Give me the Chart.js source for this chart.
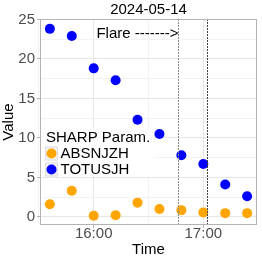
<!DOCTYPE html>
<html>
<head>
<meta charset="utf-8">
<script src="https://cdn.jsdelivr.net/npm/chart.js@4"></script>
<style>
  body { margin: 0; background: #fff; }
  #wrap { width: 262px; height: 262px; position: relative; }
</style>
</head>
<body>
<div id="wrap"><canvas id="chart"></canvas></div>
<script>
const chartTitle = '2024-05-14';
const times = ['15:36', '15:48', '16:00', '16:12', '16:24', '16:36', '16:48', '17:00', '17:12', '17:24'];
const totusjh = [23.8, 22.9, 18.8, 17.3, 12.3, 10.5, 7.8, 6.7, 4.1, 2.6];
const absnjzh = [1.6, 3.3, 0.15, 0.2, 1.8, 1.0, 0.85, 0.55, 0.47, 0.47];
const flareStart = '16:46';
const flareEnd = '17:02';
const xTickLabels = ['16:00', '17:00'];
const yTickLabels = [0, 5, 10, 15, 20, 25];

const FONT = '"Liberation Sans", Arial, sans-serif';

function toMin(t) {
    const [h, m] = t.split(':').map(Number);
    return h * 60 + m;
}
function fmt(v) {
    const h = Math.floor(v / 60), m = Math.round(v % 60);
    return h + ':' + String(m).padStart(2, '0');
}

const xMajor = xTickLabels.map(toMin);
const xMinor = [toMin('15:30'), toMin('16:30')];

// title, flare marks, panel border and legend
const extras = {
    id: 'extras',
    afterDraw(chart) {
        const { ctx, chartArea: a, scales } = chart;
        const x = scales.x, y = scales.y;
        ctx.save();

        // flare boundaries
        ctx.lineWidth = 1;
        ctx.setLineDash([2, 1]);
        ctx.strokeStyle = '#8a8a8a';
        let px = Math.round(x.getPixelForValue(toMin(flareStart))) + 0.5;
        ctx.beginPath(); ctx.moveTo(px, a.top); ctx.lineTo(px, a.bottom); ctx.stroke();
        ctx.strokeStyle = '#444';
        let px2 = Math.round(x.getPixelForValue(toMin(flareEnd))) + 0.5;
        ctx.beginPath(); ctx.moveTo(px2, a.top); ctx.lineTo(px2, a.bottom); ctx.stroke();
        ctx.setLineDash([]);

        // flare label
        ctx.fillStyle = '#000';
        ctx.font = '15px ' + FONT;
        ctx.textAlign = 'right';
        ctx.textBaseline = 'middle';
        ctx.fillText('Flare ------->', px, y.getPixelForValue(23.2));

        // panel border
        ctx.strokeStyle = '#b3b3b3';
        ctx.strokeRect(a.left + 0.5, a.top + 0.5, a.right - a.left - 1, a.bottom - a.top - 1);

        // title
        ctx.textAlign = 'center';
        ctx.fillText(chartTitle, (a.left + a.right) / 2, 10);

        // legend
        ctx.fillStyle = '#fff';
        ctx.fillRect(42, 129, 112, 47);
        ctx.fillStyle = '#000';
        ctx.textAlign = 'left';
        ctx.fillText('SHARP Param.', 46, 137.5);
        const items = [['ABSNJZH', '#FFA500', 153.5], ['TOTUSJH', '#0000FF', 169.5]];
        items.forEach(([label, color, cy]) => {
            ctx.fillStyle = '#f2f2f2';
            ctx.strokeStyle = '#e0e0e0';
            ctx.fillRect(45, cy - 7, 13, 14);
            ctx.strokeRect(45.5, cy - 6.5, 12, 13);
            ctx.fillStyle = color;
            ctx.beginPath(); ctx.arc(51.5, cy, 5, 0, Math.PI * 2); ctx.fill();
            ctx.fillStyle = '#000';
            ctx.fillText(label, 60.5, cy);
        });
        ctx.restore();
    }
};

new Chart(document.getElementById('chart'), {
    type: 'scatter',
    data: {
        datasets: [
            {
                label: 'ABSNJZH',
                data: times.map((t, i) => ({ x: toMin(t), y: absnjzh[i] })),
                backgroundColor: '#FFA500',
                borderWidth: 0,
                pointRadius: 5
            },
            {
                label: 'TOTUSJH',
                data: times.map((t, i) => ({ x: toMin(t), y: totusjh[i] })),
                backgroundColor: '#0000FF',
                borderWidth: 0,
                pointRadius: 5
            }
        ]
    },
    options: {
        responsive: true,
        maintainAspectRatio: false,
        animation: false,
        layout: { padding: { top: 19, right: 3, left: 0, bottom: 0 } },
        plugins: { legend: { display: false }, tooltip: { enabled: false } },
        scales: {
            x: {
                type: 'linear',
                min: 930.6,
                max: 1049.4,
                afterBuildTicks: s => {
                    s.ticks = xMinor.concat(xMajor).sort((a, b) => a - b).map(v => ({ value: v }));
                },
                afterFit: s => { s.height = 37; },
                ticks: {
                    autoSkip: false,
                    maxRotation: 0,
                    padding: -3,
                    color: '#4d4d4d',
                    font: { family: FONT, size: 15 },
                    callback: v => xMajor.includes(v) ? fmt(v) : ''
                },
                grid: {
                    color: c => xMajor.includes(c.tick && c.tick.value) ? '#e6e6e6' : '#f3f3f3',
                    tickColor: c => xMajor.includes(c.tick && c.tick.value) ? '#b3b3b3' : 'rgba(0,0,0,0)',
                    tickLength: 3
                },
                border: { display: false },
                title: {
                    display: true,
                    text: 'Time',
                    color: '#000',
                    font: { family: FONT, size: 15 },
                    padding: { top: 1, bottom: 3 }
                }
            },
            y: {
                min: -1.03,
                max: 25.05,
                afterBuildTicks: s => {
                    const t = [];
                    for (let i = 0; i <= 10; i++) t.push({ value: i * 2.5 });
                    s.ticks = t;
                },
                afterFit: s => { s.width = 40; },
                ticks: {
                    autoSkip: false,
                    padding: 2,
                    color: '#4d4d4d',
                    font: { family: FONT, size: 15 },
                    callback: v => yTickLabels.includes(v) ? String(v) : ''
                },
                grid: {
                    color: c => yTickLabels.includes(c.tick && c.tick.value) ? '#e6e6e6' : '#f3f3f3',
                    tickColor: c => yTickLabels.includes(c.tick && c.tick.value) ? '#b3b3b3' : 'rgba(0,0,0,0)',
                    tickLength: 3
                },
                border: { display: false },
                title: {
                    display: true,
                    text: 'Value',
                    color: '#000',
                    font: { family: FONT, size: 15 },
                    padding: { top: 0, bottom: 0 }
                }
            }
        }
    },
    plugins: [extras]
});
</script>
</body>
</html>
